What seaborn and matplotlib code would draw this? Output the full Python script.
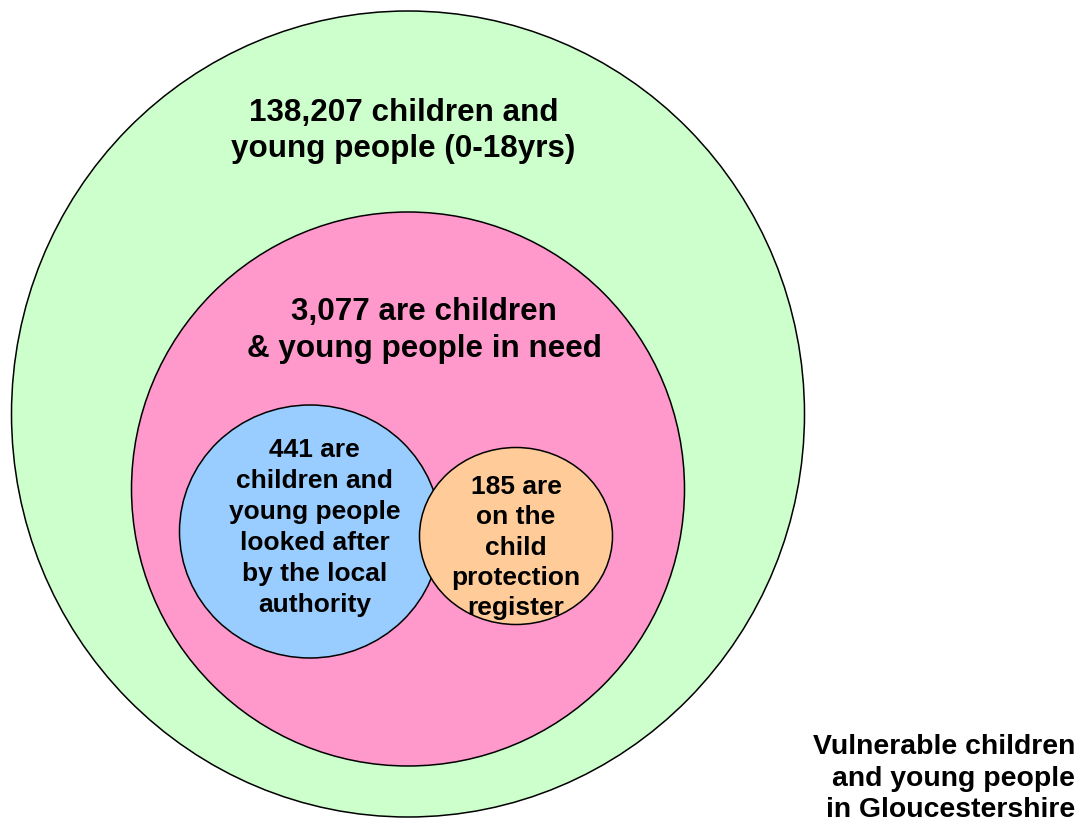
import matplotlib
matplotlib.use("Agg")
import matplotlib.pyplot as plt
from matplotlib.patches import Ellipse
import seaborn as sns

# ---- data ----
groups = ["All children", "Children in need", "Looked after", "Child protection"]
counts = [138207, 3077, 441, 185]
fill_colors = ["#CCFFCC", "#FF99CC", "#99CCFF", "#FFCC99"]
label_lines = [
    [f"{counts[0]:,} children and", "young people (0-18yrs)"],
    [f"{counts[1]:,} are children", "& young people in need"],
    [f"{counts[2]} are", "children and", "young people", "looked after",
     "by the local", "authority"],
    [f"{counts[3]} are", "on the", "child", "protection", "register"],
]
caption_lines = ["Vulnerable children", "and young people", "in Gloucestershire"]

# ---- layout (pixel space) ----
W, H = 1090, 823
shapes = [  # cx, cy, width, height
    (408, 414, 793, 806),
    (408, 489, 553, 554),
    (310, 531.5, 261, 253),
    (516, 536, 193, 177),
]
text_layout = [  # center x, first baseline, line step, font size
    (403.5, 120.7, 36.6, 22.6),
    (424, 320, 36.7, 22.6),
    (314.5, 457.3, 30.9, 19),
    (516, 494, 30.3, 19),
]

sns.set_theme(style="white")
plt.rcParams["font.family"] = ["Liberation Sans", "DejaVu Sans"]

fig = plt.figure(figsize=(W / 100, H / 100), dpi=100)
ax = fig.add_axes([0, 0, 1, 1])
ax.set_xlim(0, W)
ax.set_ylim(H, 0)
ax.axis("off")

for (cx, cy, w, h), col in zip(shapes, fill_colors):
    ax.add_patch(Ellipse((cx, cy), w, h, facecolor=col, edgecolor="black",
                         linewidth=1.1, zorder=1))

for lines, (tx, y0, dy, fs) in zip(label_lines, text_layout):
    for i, line in enumerate(lines):
        ax.text(tx, y0 + i * dy, line, ha="center", va="baseline",
                fontsize=fs, fontweight="bold", color="black", zorder=3)

for i, line in enumerate(caption_lines):
    ax.text(1075, 754.5 + i * 31.2, line, ha="right", va="baseline",
            fontsize=20.4, fontweight="bold", color="black", zorder=3)

fig.savefig("out.png", dpi=100)
